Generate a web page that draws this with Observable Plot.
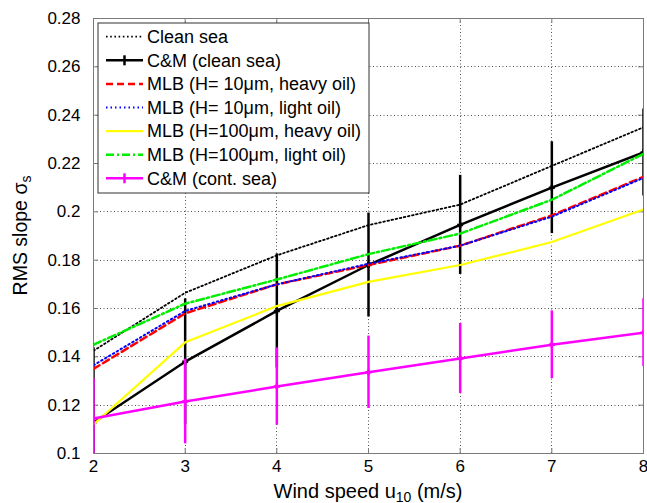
<!DOCTYPE html>
<html>
<head>
<meta charset="utf-8">
<script src="https://cdn.jsdelivr.net/npm/d3@7"></script>
<script src="https://cdn.jsdelivr.net/npm/@observablehq/plot@0.6"></script>
<style>
  html, body { margin: 0; padding: 0; background: #fff; }
  #chart { position: relative; width: 647px; height: 503px; overflow: hidden; }
</style>
</head>
<body>
<div id="chart"></div>
<script>
// ---- data ----
const windSpeed = [2, 3, 4, 5, 6, 7, 8];
const xTicks = [2, 3, 4, 5, 6, 7, 8];
const yTicks = [0.1, 0.12, 0.14, 0.16, 0.18, 0.2, 0.22, 0.24, 0.26, 0.28];

const cleanSea     = [0.1425, 0.1665, 0.182, 0.1945, 0.203, 0.219, 0.235];
const cmClean      = [0.1128, 0.138, 0.159, 0.178, 0.1946, 0.210, 0.2246];
const cmCleanErr   = [0.031, 0.026, 0.0236, 0.0215, 0.0205, 0.019, 0.018];
const mlb10Heavy   = [0.135, 0.158, 0.170, 0.178, 0.186, 0.1985, 0.2145];
const mlb10Light   = [0.1365, 0.159, 0.170, 0.1785, 0.186, 0.198, 0.214];
const mlb100Heavy  = [0.112, 0.146, 0.161, 0.171, 0.178, 0.1875, 0.201];
const mlb100Light  = [0.145, 0.162, 0.172, 0.1825, 0.191, 0.205, 0.224];
const cmCont       = [0.1145, 0.1215, 0.1277, 0.1336, 0.1393, 0.145, 0.150];
const cmContErr    = [0.0165, 0.0175, 0.016, 0.015, 0.0145, 0.014, 0.014];

const legendLabels = [
  "Clean sea",
  "C&M (clean sea)",
  "MLB (H= 10\u03BCm, heavy oil)",
  "MLB (H= 10\u03BCm, light oil)",
  "MLB (H=100\u03BCm, heavy oil)",
  "MLB (H=100\u03BCm, light oil)",
  "C&M (cont. sea)"
];

// ---- styles ----
const FONT = "'Liberation Sans', Arial, Helvetica, sans-serif";
const styles = [
  {stroke: "#000000", strokeWidth: 1.8, dash: "1.6,2.6", plus: false},
  {stroke: "#000000", strokeWidth: 2.5, dash: null, plus: true},
  {stroke: "#ff0000", strokeWidth: 2.5, dash: "7,4", plus: false},
  {stroke: "#0000ff", strokeWidth: 2, dash: "1.5,3", plus: false},
  {stroke: "#ffff00", strokeWidth: 2.2, dash: null, plus: false},
  {stroke: "#00ee00", strokeWidth: 2.5, dash: "8,3,2,3", plus: false},
  {stroke: "#ff00ff", strokeWidth: 2.5, dash: null, plus: true}
];

function rows(values, errs) {
  return windSpeed.map((x, i) => ({x, y: values[i], e: errs ? errs[i] : 0}));
}
const seriesData = [
  rows(cleanSea), rows(cmClean, cmCleanErr), rows(mlb10Heavy), rows(mlb10Light),
  rows(mlb100Heavy), rows(mlb100Light), rows(cmCont, cmContErr)
];

const plusSymbol = {
  draw(ctx, size) {
    const r = Math.sqrt(size / Math.PI);
    ctx.moveTo(-r, 0); ctx.lineTo(r, 0);
    ctx.moveTo(0, -r); ctx.lineTo(0, r);
  }
};

const W = 647, H = 503, mL = 93, mT = 18, mR = 4, mB = 50;
const plotW = W - mL - mR, plotH = H - mT - mB;
const tickStyle = {stroke: "#7a7a7a", strokeWidth: 1};

const marks = [
  Plot.tickX(xTicks, {x: d => d, insetTop: plotH - 5, ...tickStyle}),
  Plot.tickX(xTicks, {x: d => d, insetBottom: plotH - 5, ...tickStyle}),
  Plot.tickY(yTicks, {y: d => d, insetRight: plotW - 5, ...tickStyle}),
  Plot.tickY(yTicks, {y: d => d, insetLeft: plotW - 5, ...tickStyle}),
  Plot.axisX(xTicks, {anchor: "bottom", tickSize: 0, tickPadding: 6, label: null, tickFormat: d => String(d)}),
  Plot.axisY(yTicks, {anchor: "left", tickSize: 0, tickPadding: 13, label: null, tickFormat: d => String(d)})
];

seriesData.forEach((data, k) => {
  const s = styles[k];
  if (s.plus) {
    marks.push(Plot.ruleX(data, {x: "x", y1: d => d.y - d.e, y2: d => d.y + d.e, stroke: s.stroke, strokeWidth: s.strokeWidth, clip: true}));
  }
  marks.push(Plot.line(data, {x: "x", y: "y", stroke: s.stroke, strokeWidth: s.strokeWidth,
    strokeDasharray: s.dash || undefined, strokeLinejoin: "round", clip: true}));
  if (s.plus) {
    marks.push(Plot.dot(data, {x: "x", y: "y", symbol: plusSymbol, r: 3, fill: "none", stroke: s.stroke, strokeWidth: s.strokeWidth, clip: true}));
  }
});
marks.push(Plot.frame({stroke: "#7a7a7a", fill: "none"}));

const svg = Plot.plot({
  width: W,
  height: H,
  marginLeft: mL,
  marginTop: mT,
  marginRight: mR,
  marginBottom: mB,
  x: {domain: [2, 8]},
  y: {domain: [0.1, 0.28]},
  style: {fontSize: "17px", fontFamily: FONT, color: "#000", background: "#fff", overflow: "visible"},
  marks
});
document.getElementById("chart").appendChild(svg);

const s = d3.select(svg);

// ---- dotted grid, placed through Plot's own scales, beneath all marks ----
const sx = svg.scale("x"), sy = svg.scale("y");
const grid = s.insert("g", ":first-child").attr("stroke", "#505050").attr("stroke-width", 1)
  .attr("stroke-dasharray", "1,2.5").attr("fill", "none");
xTicks.forEach(v => {
  const px = Math.round(sx.apply(v)) + 0.5;
  grid.append("line").attr("x1", px).attr("x2", px)
    .attr("y1", sy.apply(yTicks[yTicks.length - 1])).attr("y2", sy.apply(yTicks[0]));
});
yTicks.forEach(v => {
  const py = Math.round(sy.apply(v)) + 0.5;
  grid.append("line").attr("y1", py).attr("y2", py)
    .attr("x1", sx.apply(xTicks[0])).attr("x2", sx.apply(xTicks[xTicks.length - 1]));
});

// ---- axis titles with subscripts ----
const xl = s.append("text")
  .attr("x", mL + plotW / 2).attr("y", 498)
  .attr("text-anchor", "middle").attr("font-family", FONT).attr("font-size", 20).attr("fill", "#000");
xl.append("tspan").text("Wind speed u");
xl.append("tspan").attr("dy", 4).attr("font-size", 14).text("10");
xl.append("tspan").attr("dy", -4).text(" (m/s)");

const yl = s.append("text")
  .attr("transform", `translate(27,${mT + plotH / 2}) rotate(-90)`)
  .attr("text-anchor", "middle").attr("font-family", FONT).attr("font-size", 19.5).attr("fill", "#000");
yl.append("tspan").text("RMS slope \u03C3");
yl.append("tspan").attr("dy", 4).attr("font-size", 14).text("s");

// ---- legend box ----
const lg = s.append("g").attr("font-family", FONT).attr("font-size", 18).attr("text-anchor", "start");
const bx = 98, by = 23, bw = 271, bh = 170;
lg.append("rect").attr("x", bx).attr("y", by).attr("width", bw).attr("height", bh)
  .attr("fill", "#fff").attr("stroke", "#333").attr("stroke-width", 1);
legendLabels.forEach((label, i) => {
  const st = styles[i];
  const cy = by + 13.7 + i * 23.6;
  lg.append("line").attr("x1", 106).attr("x2", 143).attr("y1", cy).attr("y2", cy)
    .attr("stroke", st.stroke).attr("stroke-width", st.strokeWidth)
    .attr("stroke-dasharray", st.dash || null);
  if (st.plus) {
    lg.append("line").attr("x1", 124.5).attr("x2", 124.5).attr("y1", cy - 5).attr("y2", cy + 5)
      .attr("stroke", st.stroke).attr("stroke-width", st.strokeWidth);
  }
  lg.append("text").attr("x", 147).attr("y", cy).attr("dy", "0.35em").attr("text-anchor", "start")
    .attr("fill", "#000").text(label);
});
</script>
</body>
</html>
